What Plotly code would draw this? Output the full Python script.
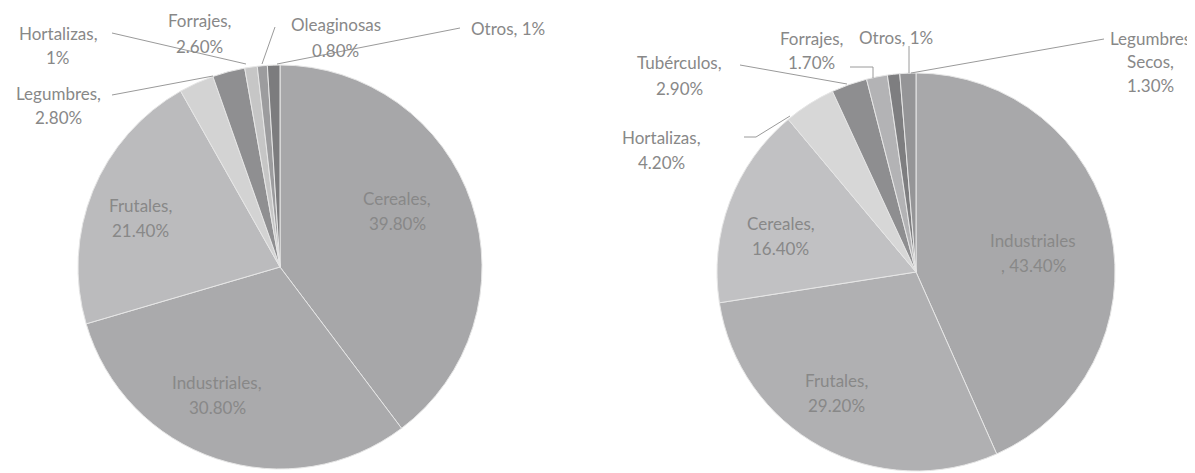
import plotly.graph_objects as go

# left pie
left_labels = ["Cereales", "Industriales", "Frutales", "Legumbres", "Forrajes",
               "Hortalizas", "Oleaginosas", "Otros"]
left_values = [39.8, 30.8, 21.4, 2.8, 2.6, 1.0, 0.8, 1.0]
left_colors = ["#a7a7a9", "#aaaaac", "#bbbbbd", "#d3d3d3", "#8f8f91",
               "#c6c6c6", "#9c9c9e", "#7c7c7e"]

# right pie
right_labels = ["Industriales", "Frutales", "Cereales", "Hortalizas", "Tubérculos",
                "Forrajes", "Otros", "Legumbres Secos"]
right_values = [43.4, 29.2, 16.4, 4.2, 2.9, 1.7, 1.0, 1.3]
right_colors = ["#a8a8aa", "#b0b0b2", "#c1c1c3", "#d7d7d7", "#8e8e90",
                "#b3b3b5", "#7e7e80", "#959597"]

W, H = 1195, 473
OFF = 8  # page body margin
FONT = "Lato"
TXT = "#888888"


def px(x, y):
    return (x - OFF) / W, 1 - (y - OFF) / H


def pie(labels, values, colors, cx, cy, r):
    x0, y1 = px(cx - r, cy - r)
    x1, y0 = px(cx + r, cy + r)
    return go.Pie(
        labels=labels, values=values, textinfo="none",
        sort=False, direction="clockwise", rotation=0,
        marker=dict(colors=colors, line=dict(color="#e6e6e6", width=1)),
        domain=dict(x=[x0, x1], y=[y0, y1]),
        showlegend=False, hoverinfo="label+percent",
    )


fig = go.Figure()
fig.add_trace(pie(left_labels, left_values, left_colors, 280, 267, 202))
fig.add_trace(pie(right_labels, right_values, right_colors, 916, 272, 199))

# labels: (lines, x centre, y of first line)
labels = [
    (["Cereales,", "39.80%"], 397, 198),
    (["Industriales,", "30.80%"], 217, 382),
    (["Frutales,", "21.40%"], 140, 205),
    (["Hortalizas,", "1%"], 58, 33),
    (["Legumbres,", "2.80%"], 58, 93),
    (["Forrajes,", "2.60%"], 199, 21),
    (["Oleaginosas", "0.80%"], 336, 25),
    (["Otros, 1%"], 508, 28),
    (["Industriales", ", 43.40%"], 1033, 240),
    (["Cereales,", "16.40%"], 781, 223),
    (["Frutales,", "29.20%"], 836, 380),
    (["Tubérculos,", "2.90%"], 679, 63),
    (["Hortalizas,", "4.20%"], 661, 137),
    (["Forrajes,", "1.70%"], 811, 38),
    (["Otros, 1%"], 896, 37),
    (["Legumbres", "Secos,", "1.30%"], 1150, 38),
]
for lines, x, y in labels:
    step = 24 if len(lines) > 2 else 25
    for i, t in enumerate(lines):
        ax, ay = px(x, y + i * step)
        fig.add_annotation(x=ax, y=ay, xref="paper", yref="paper", text=t,
                           showarrow=False, xanchor="center", yanchor="middle",
                           font=dict(family=FONT, size=17, color=TXT))

# leader lines (pixel points)
leaders = [
    [(112, 33), (246, 64)],
    [(112, 95), (213, 76)],
    [(275, 27), (262, 64)],
    [(460, 28), (277, 64)],
    [(740, 65), (847, 84)],
    [(744, 137), (756, 137), (790, 116)],
    [(850, 67), (873, 67), (873, 78)],
    [(909, 46), (909, 73)],
    [(1104, 39), (911, 73)],
]
for pts in leaders:
    for (xa, ya), (xb, yb) in zip(pts[:-1], pts[1:]):
        x0, y0 = px(xa, ya)
        x1, y1 = px(xb, yb)
        fig.add_shape(type="line", xref="paper", yref="paper",
                      x0=x0, y0=y0, x1=x1, y1=y1,
                      line=dict(color="#9a9a9a", width=1))

fig.update_layout(width=W, height=H, margin=dict(l=0, r=0, t=0, b=0),
                  paper_bgcolor="white", plot_bgcolor="white",
                  font=dict(family=FONT, color=TXT))

fig.write_html("out.html")
